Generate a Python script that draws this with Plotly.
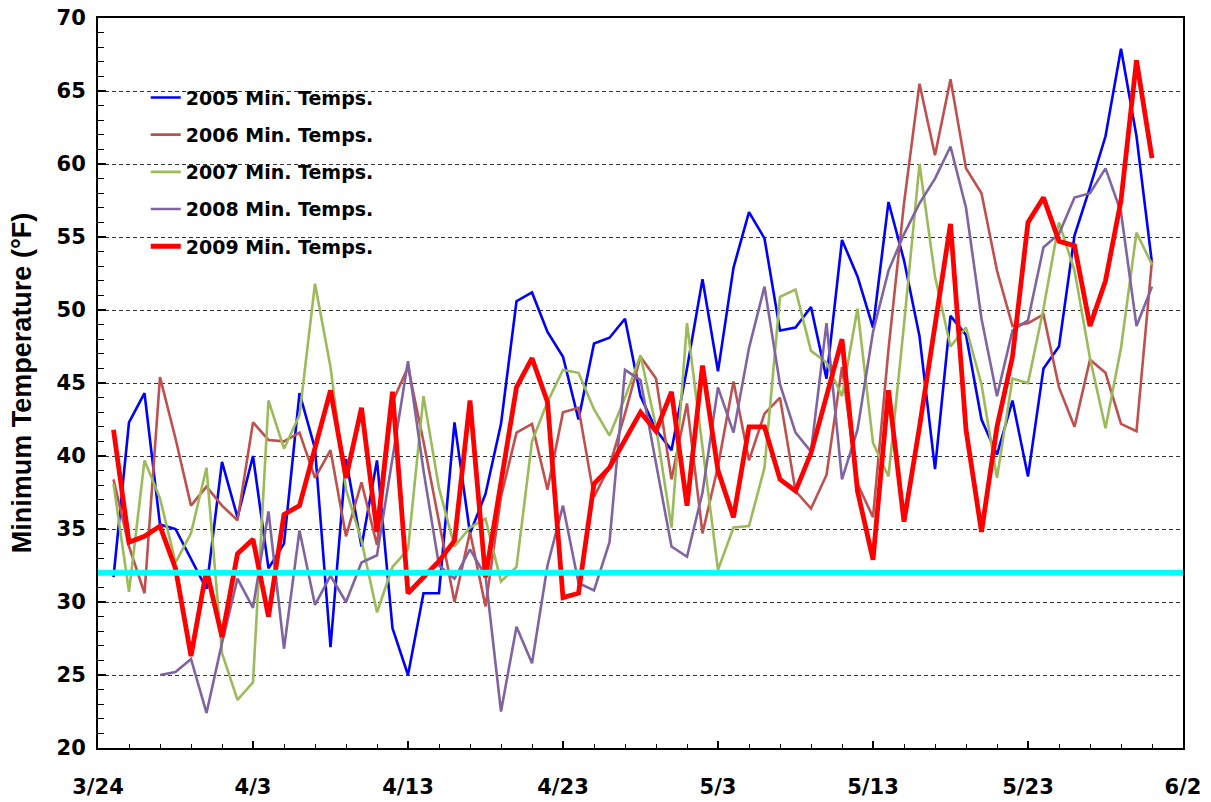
import pandas as pd
import plotly.graph_objects as go

# Daily minimum temperatures (°F), 3/25 through 5/31
days = pd.date_range("2009-03-25", periods=68, freq="D")

min_2005 = [31.7, 42.3, 44.3, 35.3, 35.0, 32.9, 30.9, 39.6, 35.8, 40.0,
            32.3, 34.0, 44.3, 40.5, 26.9, 39.8, 33.8, 39.7, 28.2, 25.0,
            30.6, 30.6, 42.3, 34.7, 37.4, 42.2, 50.6, 51.2, 48.5, 46.8,
            42.5, 47.7, 48.1, 49.4, 44.1, 41.8, 40.4, 46.0, 52.1, 45.8,
            52.9, 56.7, 54.9, 48.6, 48.8, 50.2, 45.3, 54.8, 52.3, 48.8,
            57.4, 53.4, 48.2, 39.1, 49.6, 48.3, 42.5, 40.1, 43.8, 38.6,
            46.0, 47.5, 55.1, 58.4, 61.9, 67.9, 61.9, 53.2]

min_2006 = [38.4, 33.8, 30.6, 45.4, 41.2, 36.6, 37.9, 36.6, 35.6, 42.3,
            41.1, 41.0, 41.6, 38.5, 40.4, 34.5, 38.2, 33.9, 43.7, 46.1,
            41.0, 35.5, 30.0, 34.8, 29.7, 37.2, 41.6, 42.2, 37.7, 43.0,
            43.3, 37.2, 39.3, 42.9, 46.8, 45.3, 38.4, 43.6, 34.7, 39.3,
            45.1, 39.7, 42.9, 44.0, 37.6, 36.4, 38.7, 46.1, 38.1, 35.8,
            47.3, 57.3, 65.5, 60.6, 65.8, 59.7, 58.0, 52.7, 48.9, 49.1,
            49.7, 44.7, 42.0, 46.6, 45.7, 42.2, 41.7, 53.4]

min_2007 = [38.1, 30.7, 39.7, 37.1, 32.7, 34.7, 39.2, 26.5, 23.3, 24.5,
            43.8, 40.5, 42.8, 51.8, 46.1, 37.7, 34.2, 29.3, 32.4, 33.6,
            44.1, 37.8, 33.8, 35.1, 35.7, 31.4, 32.4, 41.0, 43.7, 45.9,
            45.7, 43.2, 41.4, 44.0, 46.9, 42.0, 35.1, 49.1, 40.6, 32.2,
            35.1, 35.2, 39.2, 50.9, 51.4, 47.2, 46.4, 44.1, 50.1, 40.9,
            38.6, 49.0, 60.0, 52.3, 47.5, 48.8, 44.9, 38.5, 45.3, 45.0,
            50.1, 56.0, 52.7, 46.7, 41.9, 47.4, 55.3, 53.1]

min_2008 = [None, None, None, 25.0, 25.2, 26.1, 22.4, 27.2, 31.6, 29.6,
            36.2, 26.8, 34.9, 29.8, 31.8, 30.0, 32.7, 33.2, 39.8, 46.5,
            39.0, 32.5, 31.6, 33.6, 31.8, 22.5, 28.3, 25.8, 32.5, 36.6,
            31.3, 30.8, 34.1, 45.9, 45.2, 39.5, 33.8, 33.1, 37.5, 44.7,
            41.6, 47.4, 51.6, 44.9, 41.6, 40.3, 49.1, 38.4, 41.8, 48.5,
            52.7, 55.2, 57.3, 59.0, 61.2, 57.0, 49.4, 44.1, 48.6, 49.3,
            54.3, 55.2, 57.7, 58.0, 59.7, 56.7, 48.9, 51.6]

min_2009 = [41.8, 34.1, 34.5, 35.2, 32.3, 26.3, 32.2, 27.6, 33.3, 34.3,
            29.0, 36.0, 36.6, 40.5, 44.5, 38.5, 43.3, 34.8, 44.4, 30.6,
            31.7, 32.8, 34.2, 43.8, 31.7, 38.3, 44.7, 46.7, 43.7, 30.3,
            30.6, 38.1, 39.2, 41.1, 43.0, 41.7, 44.4, 36.6, 46.2, 39.0,
            35.8, 42.0, 42.0, 38.4, 37.6, 40.2, 44.1, 48.0, 37.6, 32.9,
            44.5, 35.5, 42.0, 49.0, 55.9, 41.8, 34.8, 42.0, 46.8, 56.0,
            57.7, 54.7, 54.4, 48.9, 52.0, 57.5, 67.1, 60.4]

series_names = ["2005 Min. Temps.", "2006 Min. Temps.", "2007 Min. Temps.",
                "2008 Min. Temps.", "2009 Min. Temps."]
series_values = [min_2005, min_2006, min_2007, min_2008, min_2009]
series_colors = ["#0000FF", "#C0504D", "#9BBB59", "#8064A2", "#FF0000"]
series_widths = [2.6, 2.6, 2.6, 2.6, 4.8]

freezing_point = 32

tick_dates = pd.date_range("2009-03-24", periods=8, freq="10D")
tick_labels = ["3/24", "4/3", "4/13", "4/23", "5/3", "5/13", "5/23", "6/2"]

fig = go.Figure()
for name, vals, color, width in zip(series_names, series_values,
                                    series_colors, series_widths):
    fig.add_trace(go.Scatter(
        x=days, y=vals, name=name, mode="lines",
        line=dict(color=color, width=width),
        legendgroup=name,
    ))

# Freezing reference line across the full plot width
fig.add_shape(type="line", xref="paper", x0=0, x1=1,
              yref="y", y0=freezing_point, y1=freezing_point,
              line=dict(color="#00FFFF", width=6), layer="above")

tick_font = dict(family="DejaVu Sans", size=21, color="black", weight="bold")

fig.update_layout(
    width=1211, height=802,
    margin=dict(l=98, r=28, t=18, b=54, autoexpand=False),
    paper_bgcolor="white", plot_bgcolor="white",
    showlegend=True,
    legend=dict(
        x=0.044, y=0.917, xanchor="left", yanchor="top",
        bgcolor="rgba(0,0,0,0)", borderwidth=0,
        font=dict(family="DejaVu Sans", size=19, color="black", weight="bold"),
        tracegroupgap=9.5,
    ),
    xaxis=dict(
        type="date", automargin=False,
        range=[tick_dates[0], tick_dates[-1]],
        tickvals=tick_dates, ticktext=tick_labels,
        ticks="inside", ticklen=7, tickwidth=1.5, tickcolor="black",
        minor=dict(dtick=2 * 86400000, tick0=tick_dates[0],
                   ticks="inside", ticklen=4, tickcolor="black", tickwidth=1),
        showgrid=False, zeroline=False,
        showline=True, linecolor="black", linewidth=2, mirror=True,
        tickfont=tick_font, ticklabelstandoff=19,
    ),
    yaxis=dict(
        range=[20, 70], dtick=5, tick0=20, automargin=False,
        ticks="inside", ticklen=8, tickwidth=1.5, tickcolor="black",
        minor=dict(dtick=1, ticks="inside", ticklen=6, tickcolor="black",
                   tickwidth=1, showgrid=False),
        showgrid=True, gridcolor="#333333", gridwidth=1, griddash="4px,3px",
        zeroline=False,
        showline=True, linecolor="black", linewidth=2, mirror=True,
        tickfont=tick_font, ticklabelstandoff=6,
        title=dict(text="Minimum Temperature (°F)",
                   font=dict(family="Liberation Sans", size=27, color="black",
                             weight="bold"),
                   standoff=17),
    ),
)

fig.write_html("out.html")
